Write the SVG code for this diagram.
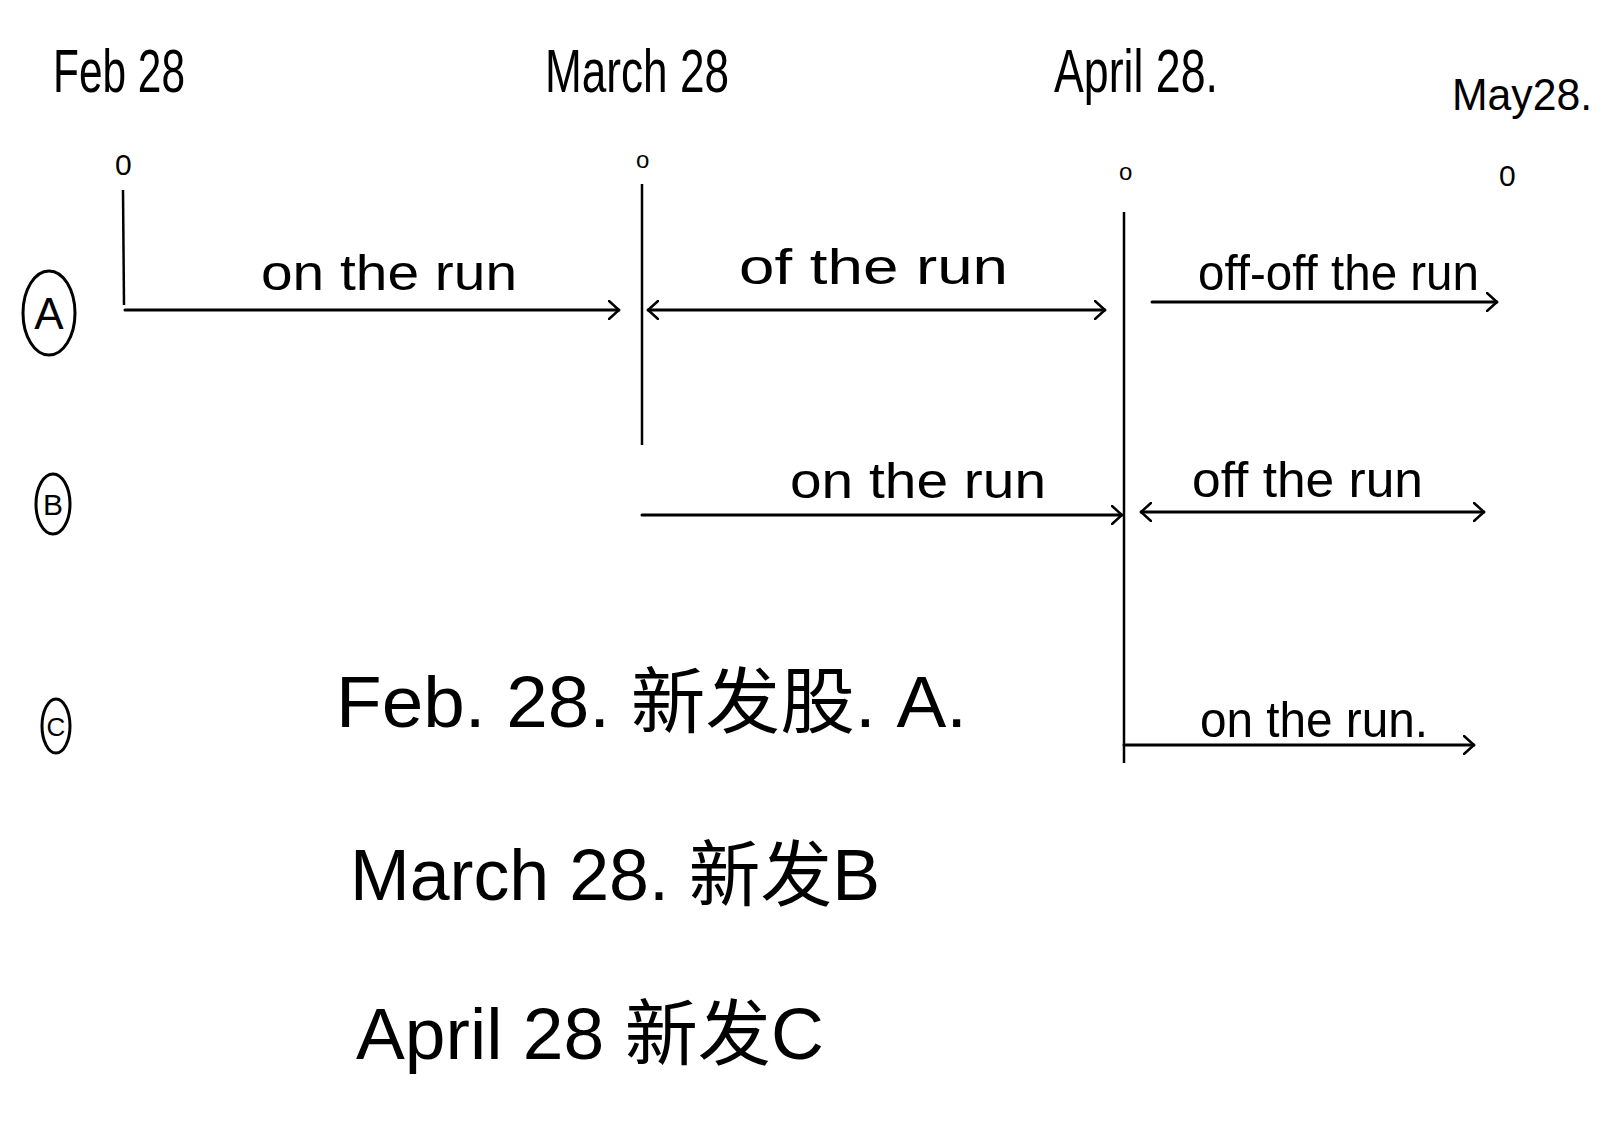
<svg xmlns="http://www.w3.org/2000/svg" width="1605" height="1129" viewBox="0 0 1605 1129">
<style>
text{font-family:"Liberation Sans","Noto Sans CJK SC",sans-serif;fill:#000}
.date{font-size:62px}
.lbl{font-size:50px}
.zero{font-size:30px}
.note{font-size:72px}
.ln{stroke:#000;stroke-width:3;fill:none;stroke-linecap:round}
.ax{stroke:#000;stroke-width:2.5;fill:none}
.circ{stroke:#000;stroke-width:3;fill:none}
</style>
<defs>
<marker id="ah" viewBox="0 0 12 20" refX="11" refY="10" markerWidth="12" markerHeight="20" markerUnits="userSpaceOnUse" orient="auto-start-reverse">
<path d="M1,1 L11,10 L1,19" fill="none" stroke="#000" stroke-width="2.5" stroke-linecap="round"/>
</marker>
</defs>
<rect width="1605" height="1129" fill="#fff"/>

<g id="dates">
<text class="date" x="53" y="92" textLength="132" lengthAdjust="spacingAndGlyphs">Feb 28</text>
<text class="date" x="545" y="92" textLength="184" lengthAdjust="spacingAndGlyphs">March 28</text>
<text class="date" x="1054" y="92" textLength="164" lengthAdjust="spacingAndGlyphs">April 28.</text>
<text class="date" x="1452" y="110" style="font-size:44px" textLength="140" lengthAdjust="spacingAndGlyphs">May28.</text>
</g>
<g id="zeros">
<text class="zero" x="115" y="175">0</text>
<text class="zero" x="636" y="168" style="font-size:24px">o</text>
<text class="zero" x="1119" y="180" style="font-size:24px">o</text>
<text class="zero" x="1499" y="186">0</text>
</g>

<g id="row-markers">
<g id="mark-A"><ellipse class="circ" cx="49" cy="313" rx="26" ry="42"/><text x="49" y="329" text-anchor="middle" style="font-size:44px">A</text></g>
<g id="mark-B"><ellipse class="circ" cx="53" cy="504" rx="17" ry="30"/><text x="53" y="515" text-anchor="middle" style="font-size:30px">B</text></g>
<g id="mark-C"><ellipse class="circ" cx="56" cy="726" rx="14" ry="27"/><text x="56" y="736" text-anchor="middle" style="font-size:26px">C</text></g>
</g>

<g id="connectors">
<line class="ax" x1="123" y1="190" x2="124" y2="305"/>
<line class="ax" x1="642" y1="184" x2="642" y2="445"/>
<line class="ax" x1="1124" y1="212" x2="1124" y2="763"/>
<line class="ln" x1="125" y1="310" x2="619" y2="310" marker-end="url(#ah)"/>
<line class="ln" x1="648" y1="310" x2="1105" y2="310" marker-start="url(#ah)" marker-end="url(#ah)"/>
<line class="ln" x1="1152" y1="302" x2="1497" y2="302" marker-end="url(#ah)"/>
<line class="ln" x1="642" y1="515" x2="1122" y2="515" marker-end="url(#ah)"/>
<line class="ln" x1="1141" y1="512" x2="1484" y2="512" marker-start="url(#ah)" marker-end="url(#ah)"/>
<line class="ln" x1="1124" y1="745" x2="1474" y2="745" marker-end="url(#ah)"/>
</g>

<g id="labels">
<text class="lbl" x="261" y="290" textLength="256" lengthAdjust="spacingAndGlyphs">on the run</text>
<text class="lbl" x="739" y="284" textLength="269" lengthAdjust="spacingAndGlyphs">of  the run</text>
<text class="lbl" x="1198" y="290" textLength="281" lengthAdjust="spacingAndGlyphs">off-off the run</text>
<text class="lbl" x="790" y="498" textLength="256" lengthAdjust="spacingAndGlyphs">on the run</text>
<text class="lbl" x="1192" y="497" textLength="231" lengthAdjust="spacingAndGlyphs">off the run</text>
<text class="lbl" x="1200" y="737" textLength="228" lengthAdjust="spacingAndGlyphs">on the run.</text>
</g>

<g id="notes">
<text class="note" x="336" y="727" textLength="631" lengthAdjust="spacingAndGlyphs">Feb. 28. 新发股. A.</text>
<text class="note" x="350" y="900" textLength="530" lengthAdjust="spacingAndGlyphs">March 28. 新发B</text>
<text class="note" x="356" y="1059" textLength="468" lengthAdjust="spacingAndGlyphs">April 28 新发C</text>
</g>
</svg>
